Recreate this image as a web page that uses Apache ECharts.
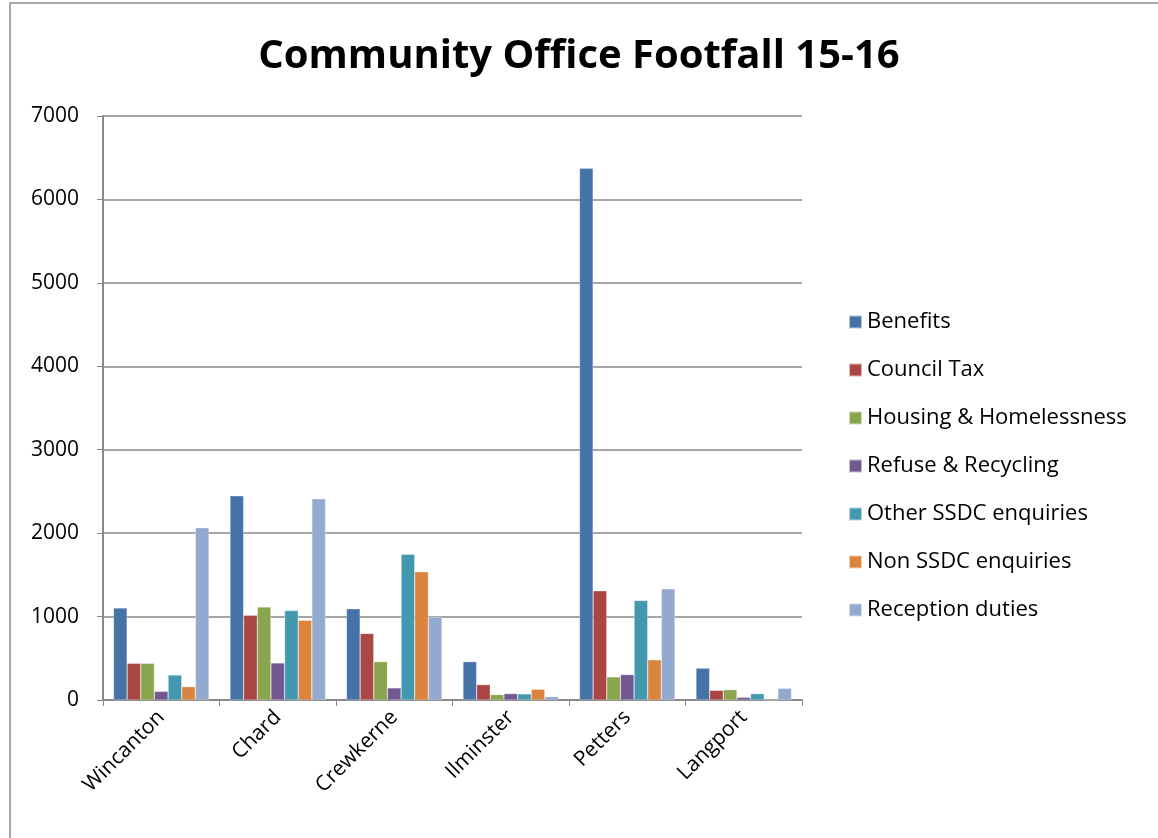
<!DOCTYPE html>
<html><head><meta charset="utf-8">
<script src="https://cdn.jsdelivr.net/npm/echarts@6/dist/echarts.min.js"></script>
<style>html,body{margin:0;padding:0;background:#fff}#c{width:1158px;height:838px}</style>
</head><body><div id="c"></div>
<script>
const categories = ['Wincanton','Chard','Crewkerne','Ilminster','Petters','Langport'];
const benefits = [1104, 2448, 1093, 460, 6375, 382];
const councilTax = [440, 1016, 798, 185, 1309, 116];
const housing = [440, 1116, 460, 65, 277, 124];
const refuse = [104, 444, 145, 77, 305, 32];
const otherSSDC = [300, 1072, 1746, 73, 1193, 76];
const nonSSDC = [160, 956, 1536, 129, 482, 0];
const reception = [2064, 2412, 992, 40, 1333, 140];
const yTicks = [0,1000,2000,3000,4000,5000,6000,7000];

const seriesDefs = [
  ['Benefits', benefits, '#4572A7'],
  ['Council Tax', councilTax, '#AA4643'],
  ['Housing & Homelessness', housing, '#89A54E'],
  ['Refuse & Recycling', refuse, '#71588F'],
  ['Other SSDC enquiries', otherSSDC, '#4198AF'],
  ['Non SSDC enquiries', nonSSDC, '#DB843D'],
  ['Reception duties', reception, '#93A9CF']
];
const font = 'Open Sans';
const chart = echarts.init(document.getElementById('c'));
chart.setOption({
  animation: false,
  backgroundColor: '#fff',
  graphic: [{type:'rect', shape:{x:10,y:3,width:1160,height:845}, style:{fill:'none', stroke:'#8c8c8c', lineWidth:1.5}}],
  title: {text:'Community Office Footfall 15-16', left:'center', top:32,
    textStyle:{fontFamily:font, fontWeight:'bold', fontSize:40, color:'#000'}},
  legend: {orient:'vertical', left:843, top:306, itemWidth:13, itemHeight:13, itemGap:26,
    icon:'rect', textStyle:{fontFamily:font, fontSize:22, color:'#000'},
    data: seriesDefs.map(s=>s[0])},
  grid: {left:103, top:116, width:699, height:584, containLabel:false},
  xAxis: {type:'category', data:categories,
    axisLine:{lineStyle:{color:'#888', width:2}},
    axisTick:{show:true, length:6, lineStyle:{color:'#888'}},
    axisLabel:{rotate:45, fontFamily:font, fontSize:21, color:'#000', margin:14, interval:0}},
  yAxis: {type:'value', min:0, max:7000, interval:1000,
    axisLine:{show:true, lineStyle:{color:'#888', width:2}},
    axisTick:{show:true, length:6, lineStyle:{color:'#888'}},
    splitLine:{lineStyle:{color:'#888', width:1.5}},
    axisLabel:{fontFamily:font, fontSize:21, color:'#000', margin:24,
      formatter: v => yTicks.includes(v) ? String(v) : ''}},
  series: seriesDefs.map(s=>({name:s[0], type:'bar', data:s[1], barGap:'0%', barCategoryGap:'18%',
    itemStyle:{color:s[2], borderColor:'rgba(255,255,255,0.6)', borderWidth:0.5}}))
});
</script></body></html>
